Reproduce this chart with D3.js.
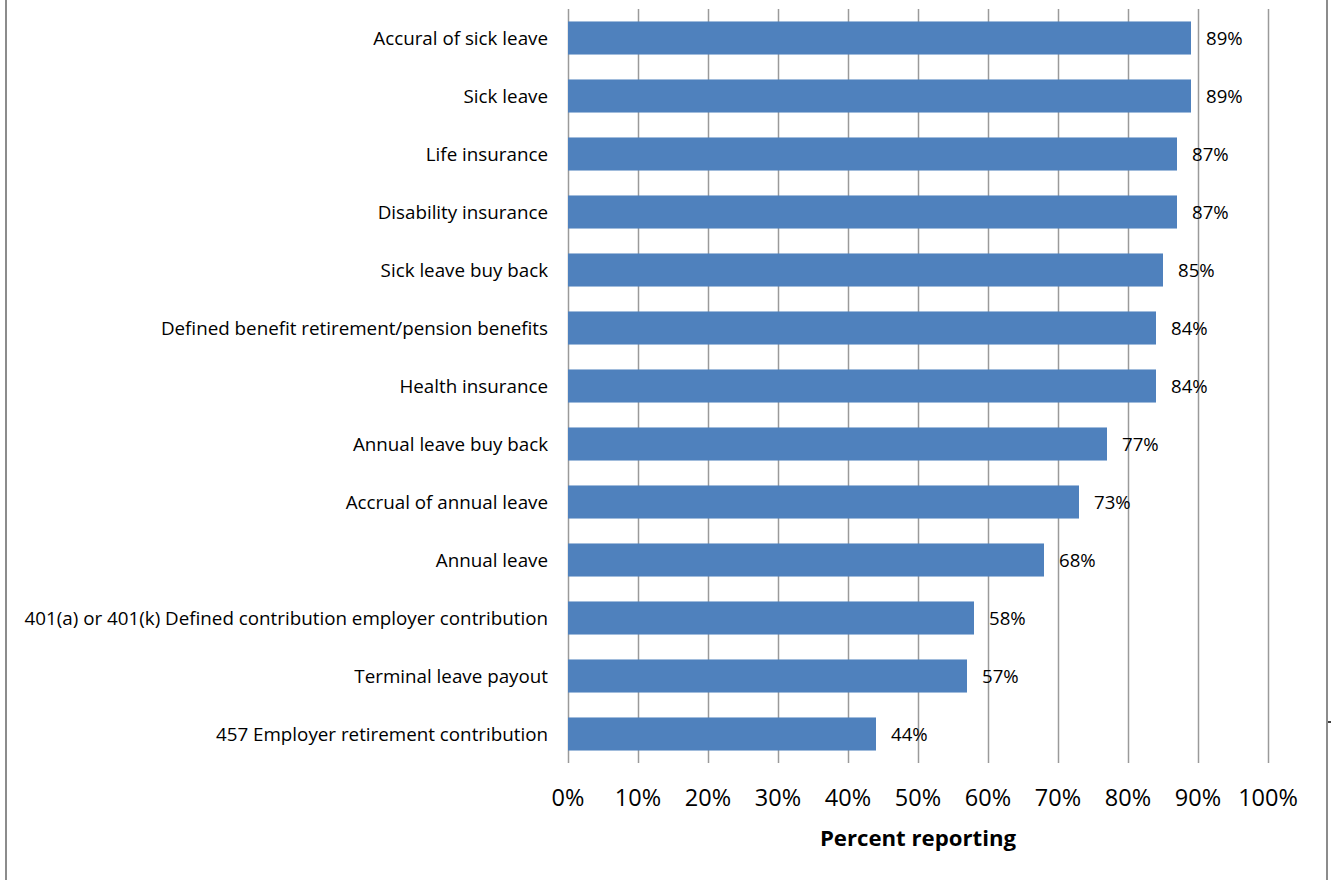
<!DOCTYPE html>
<html>
<head>
<meta charset="utf-8">
<script src="https://cdn.jsdelivr.net/npm/d3@7"></script>
<style>
  body { margin: 0; background: #fff; }
  svg { display: block; font-family: "Open Sans", sans-serif; }
  .grid line { stroke: #9a9a9a; stroke-width: 1.5; }
  .grid path { display: none; }
</style>
</head>
<body>
<svg width="1331" height="880"></svg>
<script>
// categories, top to bottom
var categories = [
  'Accural of sick leave',
  'Sick leave',
  'Life insurance',
  'Disability insurance',
  'Sick leave buy back',
  'Defined benefit retirement/pension benefits',
  'Health insurance',
  'Annual leave buy back',
  'Accrual of annual leave',
  'Annual leave',
  '401(a) or 401(k) Defined contribution employer contribution',
  'Terminal leave payout',
  '457 Employer retirement contribution'
]
var percents = [89, 89, 87, 87, 85, 84, 84, 77, 73, 68, 58, 57, 44]
var xTicks = [0, 10, 20, 30, 40, 50, 60, 70, 80, 90, 100]

var dados = categories.map((c, i) => ({ name: c, value: percents[i] }))

const svg = d3.select('svg')

// frame of the chart area
svg.append('line').attr('x1', 6).attr('x2', 6).attr('y1', 0).attr('y2', 880)
  .attr('stroke', '#8c8c8c').attr('stroke-width', 2)
svg.append('line').attr('x1', 1327).attr('x2', 1327).attr('y1', 0).attr('y2', 880)
  .attr('stroke', '#8c8c8c').attr('stroke-width', 2)
svg.append('line').attr('x1', 1328).attr('x2', 1331).attr('y1', 722).attr('y2', 722)
  .attr('stroke', '#000').attr('stroke-width', 1.5)

const margin = { top: 9, left: 568 }
const width = 700
const height = 754

const chart = svg.append('g')
  .attr('transform', `translate(${margin.left}, ${margin.top})`)

const xScale = d3.scaleLinear()
  .domain([0, 100])
  .range([0, width])

const yScale = d3.scaleBand()
  .domain(categories)
  .range([0, height])
  .paddingInner(0.43)
  .paddingOuter(0.215)

// vertical gridlines
chart.append('g')
  .attr('class', 'grid')
  .call(d3.axisBottom(xScale)
    .tickValues(xTicks)
    .tickSize(height)
    .tickFormat('')
  )

// x tick labels
chart.append('g')
  .selectAll('text')
  .data(xTicks)
  .enter()
  .append('text')
  .attr('x', (d) => xScale(d))
  .attr('y', height + 43)
  .attr('text-anchor', 'middle')
  .style('font-size', '23.5px')
  .attr('fill', '#000')
  .text((d) => d + '%')

// axis title
chart.append('text')
  .attr('x', width / 2)
  .attr('y', height + 83)
  .attr('text-anchor', 'middle')
  .style('font-size', '22.2px')
  .style('font-weight', 'bold')
  .text('Percent reporting')

// category labels
chart.append('g')
  .selectAll('text')
  .data(categories)
  .enter()
  .append('text')
  .attr('x', -20)
  .attr('y', (d) => yScale(d) + yScale.bandwidth() / 2)
  .attr('dy', '0.35em')
  .attr('text-anchor', 'end')
  .style('font-size', '18.8px')
  .text((d) => d)

const barGroups = chart.selectAll('.barg')
  .data(dados)
  .enter()
  .append('g')
  .attr('class', 'barg')

barGroups.append('rect')
  .attr('class', 'bar')
  .attr('x', 0)
  .attr('y', (g) => yScale(g.name))
  .attr('width', (g) => xScale(g.value))
  .attr('height', yScale.bandwidth())
  .attr('fill', '#4f81bd')

barGroups.append('text')
  .attr('x', (g) => xScale(g.value) + 15)
  .attr('y', (g) => yScale(g.name) + yScale.bandwidth() / 2)
  .attr('dy', '0.35em')
  .style('font-size', '18.6px')
  .text((g) => g.value + '%')
</script>
</body>
</html>
